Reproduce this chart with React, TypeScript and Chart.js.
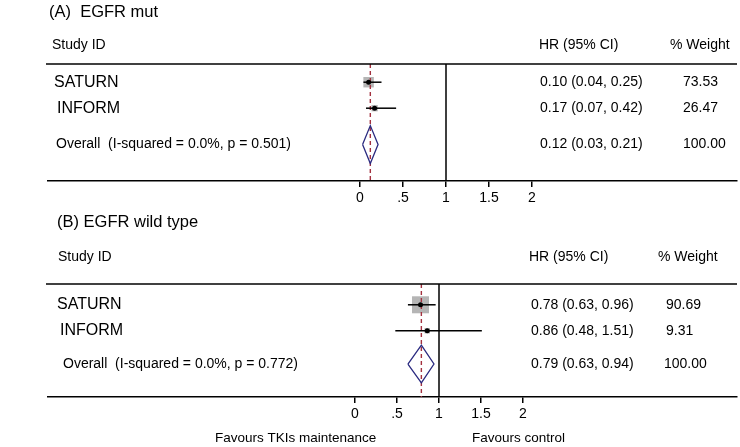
import React, { useEffect, useRef } from "react";
import { Chart, registerables } from "chart.js";

Chart.register(...registerables);

// ---------- data ----------
const studies = ["SATURN", "INFORM"];
const xTicks = [0, 0.5, 1, 1.5, 2];
const xTickLabels = ["0", ".5", "1", "1.5", "2"];

const mutHR = [0.1, 0.17];
const mutLo = [0.04, 0.07];
const mutHi = [0.25, 0.42];
const mutWeight = [73.53, 26.47];
const mutOverall = [0.12, 0.03, 0.21]; // est, lo, hi
const mutI2 = "0.0%";
const mutP = "0.501";

const wtHR = [0.78, 0.86];
const wtLo = [0.63, 0.48];
const wtHi = [0.96, 1.51];
const wtWeight = [90.69, 9.31];
const wtOverall = [0.79, 0.63, 0.94];
const wtI2 = "0.0%";
const wtP = "0.772";

const FONT = "'Liberation Sans', Arial, sans-serif";
const fmt = (v: number) => v.toFixed(2);

type PanelSpec = {
  title: string;
  hr: number[];
  lo: number[];
  hi: number[];
  weight: number[];
  overall: number[];
  i2: string;
  p: string;
  height: number;
  padTop: number;
  padBottom: number;
  xmin: number;
  xmax: number;
  rows: number[]; // study rows then overall row
  ymax: number;
  diamondH: number;
  boxScale: number;
  text: {
    titleX: number;
    titleY: number;
    headY: number;
    studyX: number;
    hrHeadX: number;
    wHeadX: number;
    nameX: number[];
    overallX: number;
    valX: number;
    wX: number[];
    favours?: { y: number; leftX: number; rightX: number };
  };
};

function buildConfig(s: PanelSpec): any {
  const y0 = 0;
  const boxes = s.hr.map((v, i) => ({ x: v, y: s.rows[i] }));
  const boxRadius = s.weight.map((w) => (s.boxScale * Math.sqrt(w)) / Math.SQRT2);
  const ciSets = s.hr.map((_, i) => ({
    type: "scatter",
    data: [
      { x: s.lo[i], y: s.rows[i] },
      { x: s.hi[i], y: s.rows[i] },
    ],
    showLine: true,
    borderColor: "#000",
    borderWidth: 1.5,
    pointRadius: 0,
    order: 2,
  }));
  const oy = s.rows[s.rows.length - 1];
  const [oe, ol, oh] = s.overall;
  const datasets: any[] = [
    {
      type: "scatter",
      data: [
        { x: 1, y: y0 },
        { x: 1, y: s.ymax },
      ],
      showLine: true,
      borderColor: "#000",
      borderWidth: 1.5,
      pointRadius: 0,
      order: 5,
    },
    {
      type: "scatter",
      data: [
        { x: oe, y: y0 },
        { x: oe, y: s.ymax },
      ],
      showLine: true,
      borderColor: "#a3313f",
      borderWidth: 1.4,
      borderDash: [4, 3],
      pointRadius: 0,
      order: 2.5,
    },
    {
      type: "scatter",
      data: boxes,
      pointStyle: "rect",
      pointRadius: boxRadius,
      backgroundColor: "#b5b5b5",
      borderWidth: 0,
      order: 3,
    },
    ...ciSets,
    {
      type: "scatter",
      data: boxes,
      pointStyle: "circle",
      pointRadius: 2.5,
      backgroundColor: "#000",
      borderWidth: 0,
      order: 1,
    },
    {
      type: "scatter",
      data: [
        { x: ol, y: oy },
        { x: oe, y: oy - s.diamondH },
        { x: oh, y: oy },
        { x: oe, y: oy + s.diamondH },
        { x: ol, y: oy },
      ],
      showLine: true,
      borderColor: "#2a2a80",
      borderWidth: 1.3,
      pointRadius: 0,
      tension: 0,
      order: 1,
    },
  ];

  const textPlugin = {
    id: "forestText",
    afterDraw(chart: any) {
      const ctx = chart.ctx;
      const ys = chart.scales.y;
      const t = s.text;
      const area = chart.chartArea;
      ctx.save();
      // top rule
      ctx.strokeStyle = "#000";
      ctx.lineWidth = 1.5;
      ctx.beginPath();
      ctx.moveTo(area.left - 2, area.top);
      ctx.lineTo(area.right, area.top);
      ctx.stroke();

      ctx.fillStyle = "#000";
      ctx.textBaseline = "middle";
      ctx.textAlign = "left";
      ctx.font = `16.5px ${FONT}`;
      ctx.fillText(s.title, t.titleX, t.titleY);
      ctx.font = `14px ${FONT}`;
      ctx.fillText("Study ID", t.studyX, t.headY);
      ctx.fillText("HR (95% CI)", t.hrHeadX, t.headY);
      ctx.fillText("% Weight", t.wHeadX, t.headY);

      studies.forEach((name, i) => {
        const py = ys.getPixelForValue(s.rows[i]);
        ctx.font = `16px ${FONT}`;
        ctx.fillText(name, t.nameX[i], py);
        ctx.font = `14px ${FONT}`;
        ctx.fillText(`${fmt(s.hr[i])} (${fmt(s.lo[i])}, ${fmt(s.hi[i])})`, t.valX, py);
        ctx.fillText(fmt(s.weight[i]), t.wX[i], py);
      });
      const opy = ys.getPixelForValue(oy);
      ctx.font = `14px ${FONT}`;
      ctx.fillText(`Overall  (I-squared = ${s.i2}, p = ${s.p})`, t.overallX, opy);
      ctx.fillText(`${fmt(oe)} (${fmt(ol)}, ${fmt(oh)})`, t.valX, opy);
      const totalW = s.weight.reduce((a, b) => a + b, 0);
      ctx.fillText(fmt(totalW), t.wX[t.wX.length - 1], opy);

      if (t.favours) {
        ctx.font = `13.5px ${FONT}`;
        ctx.fillText("Favours TKIs maintenance", t.favours.leftX, t.favours.y);
        ctx.fillText("Favours control", t.favours.rightX, t.favours.y);
      }
      ctx.restore();
    },
  };

  return {
    type: "scatter",
    data: { datasets },
    options: {
      responsive: false,
      animation: false,
      events: [],
      layout: {
        autoPadding: false,
        padding: { left: 48, right: 3, top: s.padTop, bottom: s.padBottom },
      },
      plugins: { legend: { display: false }, tooltip: { enabled: false } },
      scales: {
        x: {
          type: "linear",
          position: "bottom",
          min: s.xmin,
          max: s.xmax,
          afterBuildTicks: (sc: any) => {
            sc.ticks = xTicks.map((v) => ({ value: v }));
          },
          afterFit: (sc: any) => {
            sc.height = 28;
          },
          ticks: {
            autoSkip: false,
            maxRotation: 0,
            padding: 3,
            color: "#000",
            font: { family: FONT, size: 14 },
            callback: (_v: any, i: number) => xTickLabels[i],
          },
          grid: {
            drawOnChartArea: false,
            drawTicks: true,
            tickLength: 6,
            color: "#000",
            lineWidth: 1.5,
          },
          border: { display: true, color: "#000", width: 1.5 },
        },
        y: {
          type: "linear",
          display: false,
          reverse: true,
          min: 0,
          max: s.ymax,
        },
      },
    },
    plugins: [textPlugin],
  };
}

const panelA: PanelSpec = {
  title: "(A)  EGFR mut",
  hr: mutHR,
  lo: mutLo,
  hi: mutHi,
  weight: mutWeight,
  overall: mutOverall,
  i2: mutI2,
  p: mutP,
  height: 210,
  padTop: 64,
  padBottom: 1,
  xmin: -(360 - 48) / 86,
  xmax: (737 - 360) / 86,
  rows: [0.7, 1.7, 3.1],
  ymax: 4.5,
  diamondH: 0.73,
  boxScale: 1.22,
  text: {
    titleX: 49,
    titleY: 12,
    headY: 45,
    studyX: 52,
    hrHeadX: 539,
    wHeadX: 670,
    nameX: [54, 57],
    overallX: 56,
    valX: 540,
    wX: [683, 683, 683],
  },
};

const panelB: PanelSpec = {
  title: "(B) EGFR wild type",
  hr: wtHR,
  lo: wtLo,
  hi: wtHi,
  weight: wtWeight,
  overall: wtOverall,
  i2: wtI2,
  p: wtP,
  height: 237,
  padTop: 74,
  padBottom: 22,
  xmin: -(355 - 48) / 84,
  xmax: (737 - 355) / 84,
  rows: [0.8, 1.8, 3.08],
  ymax: 4.35,
  diamondH: 0.73,
  boxScale: 1.785,
  text: {
    titleX: 57,
    titleY: 12,
    headY: 47,
    studyX: 58,
    hrHeadX: 529,
    wHeadX: 658,
    nameX: [57, 60],
    overallX: 63,
    valX: 531,
    wX: [666, 666, 664],
    favours: { y: 228, leftX: 215, rightX: 472 },
  },
};

function Panel({ spec, top }: { spec: PanelSpec; top: number }) {
  const ref = useRef<HTMLCanvasElement | null>(null);
  useEffect(() => {
    if (!ref.current) return;
    const chart = new Chart(ref.current, buildConfig(spec));
    return () => chart.destroy();
  }, [spec]);
  return (
    <canvas
      ref={ref}
      width={740}
      height={spec.height}
      style={{ position: "absolute", left: 0, top, width: 740, height: spec.height, display: "block" }}
    />
  );
}

export default function App() {
  return (
    <div
      style={{
        position: "absolute",
        left: 0,
        top: 0,
        width: 740,
        height: 447,
        background: "#fff",
        overflow: "hidden",
      }}
    >
      <Panel spec={panelA} top={0} />
      <Panel spec={panelB} top={210} />
    </div>
  );
}
